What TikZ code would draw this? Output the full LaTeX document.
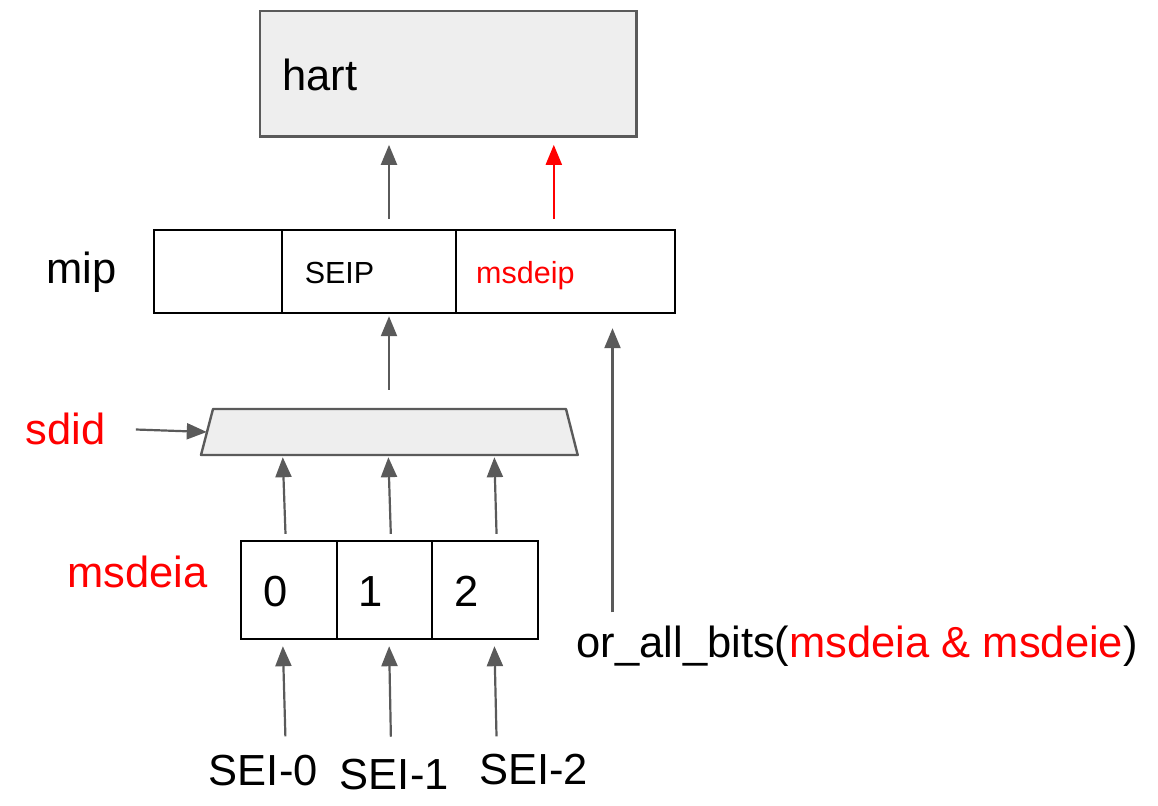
\documentclass[tikz,border=0pt]{standalone}
\usepackage{fontspec}
\setmainfont{Liberation Sans}
\usetikzlibrary{arrows.meta}
\definecolor{wire}{HTML}{5A5A5A}
\definecolor{shade}{HTML}{EEEEEE}
\tikzset{
  big/.style={font=\fontsize{43.5}{52}\selectfont, inner sep=0pt},
  small/.style={font=\fontsize{30.5}{36}\selectfont, inner sep=0pt},
  cell/.style={draw=black, line width=2.4pt, inner sep=0pt},
  link/.style={wire, line width=2.2pt, -{Triangle[length=20pt,width=16pt]}},
}
\begin{document}
\begin{tikzpicture}[x=1pt, y=-1pt]
  \useasboundingbox (0, 0) rectangle (1158, 805);

  % hart
  \node[draw=wire, fill=shade, line width=2.4pt, minimum width=376.7pt, minimum height=125.7pt, inner sep=0pt] (hart) at (448.3, 73.8) {};
  \node[big, anchor=base west] (hartname) at (282, 90.7) {hart};

  % mip register
  \node[cell, minimum width=128pt, minimum height=83pt] (mipa) at (218, 271.5) {};
  \node[cell, minimum width=174pt, minimum height=83pt] (seip) at (369, 271.5) {};
  \node[cell, minimum width=219pt, minimum height=83pt] (msdeip) at (565.5, 271.5) {};
  \node[big, anchor=base west] (mip) at (46, 283.3) {mip};
  \node[small, anchor=base west] (seipname) at (304.6, 283) {SEIP};
  \node[small, anchor=base west, red] (msdeipname) at (476, 283) {msdeip};

  % mux
  \draw[draw=wire, fill=shade, line width=2.4pt, line join=round] (213, 409) -- (566, 409) -- (577.7, 455) -- (201, 455) -- cycle;
  \node[inner sep=0pt, minimum width=364pt, minimum height=46pt] (mux) at (389, 432) {};
  \node[big, anchor=base west, red] (sdid) at (25.7, 444) {sdid};

  % msdeia
  \node[cell, minimum width=96pt, minimum height=98pt] (m0) at (289, 590) {};
  \node[cell, minimum width=95pt, minimum height=98pt] (m1) at (384.5, 590) {};
  \node[cell, minimum width=106pt, minimum height=98pt] (m2) at (485, 590) {};
  \node[big, anchor=base west] (d0) at (263, 606) {0};
  \node[big, anchor=base west] (d1) at (358.3, 606) {1};
  \node[big, anchor=base west] (d2) at (454.4, 606) {2};
  \node[big, anchor=base west, red] (msdeia) at (67, 587) {msdeia};

  % inputs
  \node[big, anchor=base west] (sei0) at (208.7, 785) {SEI-0};
  \node[big, anchor=base west] (sei1) at (339.7, 789.3) {SEI-1};
  \node[big, anchor=base west] (sei2) at (479, 784) {SEI-2};
  \node[big, anchor=base west] (orbits) at (576.5, 657) {or\_all\_bits(\textcolor{red}{msdeia \& msdeie})};

  % arrows
  \draw[link, shorten <=10pt, shorten >=7pt] ([xshift=20pt]seip.north) -- ([xshift=20pt]seip.north |- hart.south);
  \draw[link, red, shorten <=10pt, shorten >=7pt] ([xshift=-11.7pt]msdeip.north) -- ([xshift=-11.7pt]msdeip.north |- hart.south);
  \draw[link, shorten <=19pt, shorten >=2pt] (mux.north) -- (mux.north |- seip.south);
  \draw[link, shorten <=30pt] (sdid.east) -- (mux.west);
  \draw[link, shorten <=6pt, shorten >=2pt] ([xshift=-3.3pt]m0.north) -- ([xshift=-6.3pt]m0.north |- mux.south);
  \draw[link, shorten <=6pt, shorten >=2pt] ([xshift=6.5pt]m1.north) -- ([xshift=3.8pt]m1.north |- mux.south);
  \draw[link, shorten <=6pt, shorten >=2pt] ([xshift=11.7pt]m2.north) -- ([xshift=9.3pt]m2.north |- mux.south);
  \draw[link, shorten <=18pt, shorten >=6pt] ([xshift=22.6pt]sei0.north) -- ([xshift=-6.3pt]m0.south);
  \draw[link, shorten <=22pt, shorten >=6pt] ([xshift=-3pt]sei1.north) -- ([xshift=4.5pt]m1.south);
  \draw[link, shorten <=17pt, shorten >=6pt] ([xshift=-36.7pt]sei2.north) -- ([xshift=9.3pt]m2.south);
  \draw[link, shorten <=13pt, shorten >=14pt] ([xshift=36pt]orbits.north west) -- ([xshift=36pt]orbits.north west |- msdeip.south);
\end{tikzpicture}
\end{document}
